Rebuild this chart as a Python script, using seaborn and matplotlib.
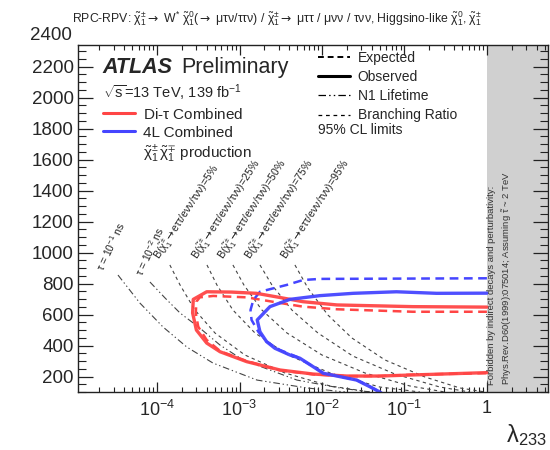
import math
import matplotlib
matplotlib.use("Agg")
import matplotlib.pyplot as plt
import matplotlib.ticker as mticker
import matplotlib.transforms as mtrans
from matplotlib.lines import Line2D
import pandas as pd
import seaborn as sns

# ---------------- data (lambda_233, mass [GeV]) ----------------
red_obs_lambda = [1.0, 0.126, 0.0152, 0.00587, 0.0031, 0.0016, 8.0e-4, 4.0e-4, 2.75e-4, 2.7e-4,
                  3.0e-4, 4.0e-4, 5.8e-4, 1.22e-3, 3.1e-3, 7.8e-3, 0.020, 0.050, 0.126, 1.0]
red_obs_mass = [648, 651, 662, 683, 710, 737, 745, 747, 698, 610,
                500, 416, 360, 296, 242, 216, 203, 203, 210, 225]

red_exp_lambda = [1.0, 0.126, 0.0152, 0.00587, 0.0030, 0.00122, 4.8e-4, 3.3e-4, 3.0e-4, 2.95e-4,
                  3.16e-4, 4.0e-4, 5.9e-4, 1.25e-3, 3.1e-3, 7.8e-3, 0.020, 0.050, 0.126, 1.0]
red_exp_mass = [618, 618, 634, 651, 676, 711, 720, 711, 683, 608,
                521, 436, 362, 298, 240, 214, 202, 203, 212, 222]

blue_obs_lambda = [1.0, 0.245, 0.080, 0.0239, 0.00943, 0.00408, 0.00234, 0.00164, 0.00177, 0.00213,
                   0.00269, 0.00408, 0.0054, 0.00783, 0.01035, 0.0165, 0.0263, 0.0381, 0.0504, 0.058]
blue_obs_mass = [738, 737, 747, 737, 722, 698, 651, 565, 489, 425,
                 382, 339, 318, 263, 221, 199, 177, 134, 100, 75]

blue_exp_lambda = [1.0, 0.00943, 0.00592, 0.00373, 0.00256, 0.00177, 0.00147, 0.00136, 0.0014, 0.00169,
                   0.00213, 0.00309, 0.00492, 0.0078, 0.0103, 0.0165, 0.0263, 0.0381, 0.0504, 0.058]
blue_exp_mass = [834, 830, 823, 791, 769, 747, 694, 629, 565, 489,
                 425, 371, 328, 265, 223, 200, 178, 135, 100, 75]

# Branching-ratio contours
br_values = ["5%", "25%", "50%", "75%", "95%"]
br_lambda = [
    [1.43e-4, 1.90e-4, 2.88e-4, 5.04e-4, 1.16e-3, 3.55e-3, 0.0125, 0.0381],
    [4.03e-4, 5.32e-4, 8.32e-4, 1.54e-3, 3.86e-3, 0.0125, 0.0504, 0.154],
    [8.32e-4, 1.13e-3, 1.87e-3, 3.76e-3, 9.98e-3, 0.0331, 0.116, 0.309],
    [1.77e-3, 2.47e-3, 4.32e-3, 8.92e-3, 0.0237, 0.0765, 0.269, 0.621],
    [4.7e-3, 6.75e-3, 0.0118, 0.0230, 0.0579, 0.177, 0.470, 0.95],
]
br_mass = [
    [920, 791, 629, 481, 339, 223, 139, 100],
    [920, 791, 629, 481, 339, 223, 132, 100],
    [920, 791, 629, 481, 339, 223, 139, 100],
    [920, 791, 629, 481, 332, 216, 132, 100],
    [920, 771, 597, 449, 307, 197, 126, 100],
]
br_label_lambda = [1.22e-4, 3.5e-4, 7.2e-4, 1.55e-3, 4.2e-3]
br_label_mass = [935, 935, 935, 935, 935]

# N1 lifetime contours
tau_labels = ["-1", "-2"]
tau_lambda = [
    [3.36e-5, 6.2e-5, 1.18e-4, 2.3e-4, 4.76e-4, 1.63e-3, 6.6e-3, 0.019],
    [8.2e-5, 1.25e-4, 1.9e-4, 3.3e-4, 5.8e-4, 1.1e-3, 4.97e-3, 0.0165, 0.038],
]
tau_mass = [
    [855, 674, 520, 390, 287, 177, 126, 100],
    [810, 707, 610, 513, 403, 307, 177, 126, 100],
]
tau_label_lambda = [2.4e-5, 7.2e-5]
tau_label_mass = [870, 838]

forbidden_start = 1.0
x_ticks = [1e-4, 1e-3, 1e-2, 1e-1, 1]
y_ticks = [200, 400, 600, 800, 1000, 1200, 1400, 1600, 1800, 2000, 2200]

# ---------------- style ----------------
sns.set_theme(style="ticks")
plt.rcParams["font.family"] = ["Liberation Sans", "DejaVu Sans"]
plt.rcParams["mathtext.fontset"] = "custom"
plt.rcParams["mathtext.rm"] = "Liberation Sans"
plt.rcParams["mathtext.it"] = "Liberation Sans:italic"
plt.rcParams["mathtext.bf"] = "Liberation Sans:bold"
plt.rcParams["mathtext.sf"] = "DejaVu Sans"
plt.rcParams["mathtext.default"] = "regular"
plt.rcParams["axes.linewidth"] = 1.0

ARROW = r"\mathsf{\rightarrow}"

fig = plt.figure(figsize=(5.5, 4.5), dpi=100)
ax = fig.add_axes([0.1418, 0.1289, 0.8545, 0.7711])
ax.set_xscale("log")
ax.set_xlim(1.1e-5, 5.5)
ax.set_ylim(100, 2340)

ax.axvspan(forbidden_start, 5.5, color="#d0d0d0", lw=0, zorder=0)


def curve(xs, ys, **kw):
    df = pd.DataFrame({"lam": xs, "mass": ys})
    sns.lineplot(data=df, x="lam", y="mass", sort=False, estimator=None, ax=ax, **kw)


gray_dash = (0, (3, 3))
life_dash = (0, (6, 2.5, 1.2, 2.5, 1.2, 2.5))
for xs, ys in zip(br_lambda, br_mass):
    curve(xs, ys, color="#444444", lw=0.8, linestyle=gray_dash)
for xs, ys in zip(tau_lambda, tau_mass):
    curve(xs, ys, color="#444444", lw=0.8, linestyle=life_dash)

red = "#ff4545"
blue = "#4545ff"
curve(red_exp_lambda, red_exp_mass, color=red, lw=1.8, linestyle=(0, (3.5, 2.2)))
curve(blue_exp_lambda, blue_exp_mass, color=blue, lw=1.8, linestyle=(0, (3.5, 2.2)))
curve(red_obs_lambda, red_obs_mass, color=red, lw=2.4, alpha=0.95)
curve(blue_obs_lambda, blue_obs_mass, color=blue, lw=2.4, alpha=0.95)

ax.set_xlabel("")
ax.set_ylabel("")

# contour labels
for xl, yl, v in zip(br_label_lambda, br_label_mass, br_values):
    ax.text(xl, yl,
            r"B($\tilde{\chi}^{\pm}_{1}" + ARROW + r"e\tau\tau/e\nu\nu/\tau\nu\nu$)=" + v,
            rotation=57, rotation_mode="anchor", ha="left", va="bottom",
            fontsize=7.6, color="#222222")
for xl, yl, t in zip(tau_label_lambda, tau_label_mass, tau_labels):
    ax.text(xl, yl, r"$\tau$ = 10$^{%s}$ ns" % t, rotation=65, rotation_mode="anchor",
            ha="left", va="bottom", fontsize=7.6, color="#222222")

# ---------------- axes ----------------
ax.xaxis.set_major_locator(mticker.FixedLocator(x_ticks))
ax.xaxis.set_minor_locator(mticker.LogLocator(base=10, subs=range(2, 10), numticks=20))
ax.xaxis.set_major_formatter(mticker.FuncFormatter(
    lambda v, p: "1" if abs(v - 1) < 1e-9 else r"$10^{%d}$" % round(math.log10(v))))
ax.xaxis.set_minor_formatter(mticker.NullFormatter())
ax.yaxis.set_major_locator(mticker.FixedLocator(y_ticks))
ax.yaxis.set_minor_locator(mticker.MultipleLocator(50))
ax.tick_params(axis="both", which="both", direction="in", top=True, right=True, color="#222222")
ax.tick_params(axis="y", which="major", length=11, width=0.9, labelsize=13.5, pad=3)
ax.tick_params(axis="y", which="minor", length=5.5, width=0.8)
ax.tick_params(axis="x", which="major", length=7, width=0.9, labelsize=13, pad=6)
ax.tick_params(axis="x", which="minor", length=3.5, width=0.8)
for s in ax.spines.values():
    s.set_color("#222222")

trans = mtrans.blended_transform_factory(ax.transAxes, ax.transData)
ax.text(-0.012, 2400, "2400", transform=trans, ha="right", va="center",
        fontsize=13.5, clip_on=False)

fig.text(0.995, 0.018, r"$\lambda_{233}$", ha="right", va="baseline", fontsize=17)

fig.text(0.131, 0.958,
         r"RPC-RPV: $\tilde{\chi}^{\pm}_{1}" + ARROW + r"$ W$^{*}$ $\tilde{\chi}^{0}_{1}$($" + ARROW
         + r"$ $\mu\tau\nu/\tau\tau\nu$) / $\tilde{\chi}^{\pm}_{1}" + ARROW
         + r"$ $\mu\tau\tau$ / $\mu\nu\nu$ / $\tau\nu\nu$, Higgsino-like "
         r"$\tilde{\chi}^{0}_{1}$, $\tilde{\chi}^{\pm}_{1}$",
         ha="left", va="center", fontsize=8.8)

# forbidden region text
ax.text(1.15, 145, "Forbidden by indirect decays and perturbativity:", rotation=90,
        ha="center", va="bottom", fontsize=6.8, color="#333333")
ax.text(1.75, 145, r"Phys.Rev.D60(1999):075014; Assuming $\tilde{\tau}$ ~ 2 TeV", rotation=90,
        ha="center", va="bottom", fontsize=6.8, color="#333333")

# ATLAS label
atl = ax.text(0.053, 0.934, "ATLAS", transform=ax.transAxes, fontsize=15.5,
              fontweight="bold", fontstyle="italic", ha="left", va="center")
ax.annotate("Preliminary", xy=(1, 0), xycoords=atl, xytext=(6, 0),
            textcoords="offset points", ha="left", va="bottom", fontsize=15.5)
ax.text(0.053, 0.862, r"$\sqrt{s}$=13 TeV, 139 fb$^{-1}$", transform=ax.transAxes,
        fontsize=10.5, ha="left", va="center")

# legends
h1 = [Line2D([], [], color=red, lw=2.2), Line2D([], [], color=blue, lw=2.2),
      Line2D([], [], color="none")]
l1 = [r"Di-$\tau$ Combined", "4L Combined",
      r"$\tilde{\chi}^{\pm}_{1}\,\tilde{\chi}^{\mp}_{1}$ production"]
leg1 = ax.legend(h1, l1, loc="upper left", bbox_to_anchor=(0.053, 0.822), frameon=False,
                 fontsize=11, handlelength=2.1, handletextpad=0.55, labelspacing=0.25,
                 borderpad=0, borderaxespad=0)
ax.add_artist(leg1)

h2 = [Line2D([], [], color="black", lw=1.4, linestyle=(0, (3, 2))),
      Line2D([], [], color="black", lw=2.2),
      Line2D([], [], color="black", lw=0.9, linestyle=life_dash),
      Line2D([], [], color="black", lw=0.9, linestyle=gray_dash)]
l2 = ["Expected", "Observed", "N1 Lifetime", "Branching Ratio"]
ax.legend(h2, l2, loc="upper left", bbox_to_anchor=(0.511, 0.984), frameon=False,
          fontsize=10, handlelength=2.3, handletextpad=0.55, labelspacing=0.38,
          borderpad=0, borderaxespad=0)
ax.text(0.511, 0.756, "95% CL limits", transform=ax.transAxes, fontsize=10,
        ha="left", va="center")

fig.savefig("out.png", dpi=100)
